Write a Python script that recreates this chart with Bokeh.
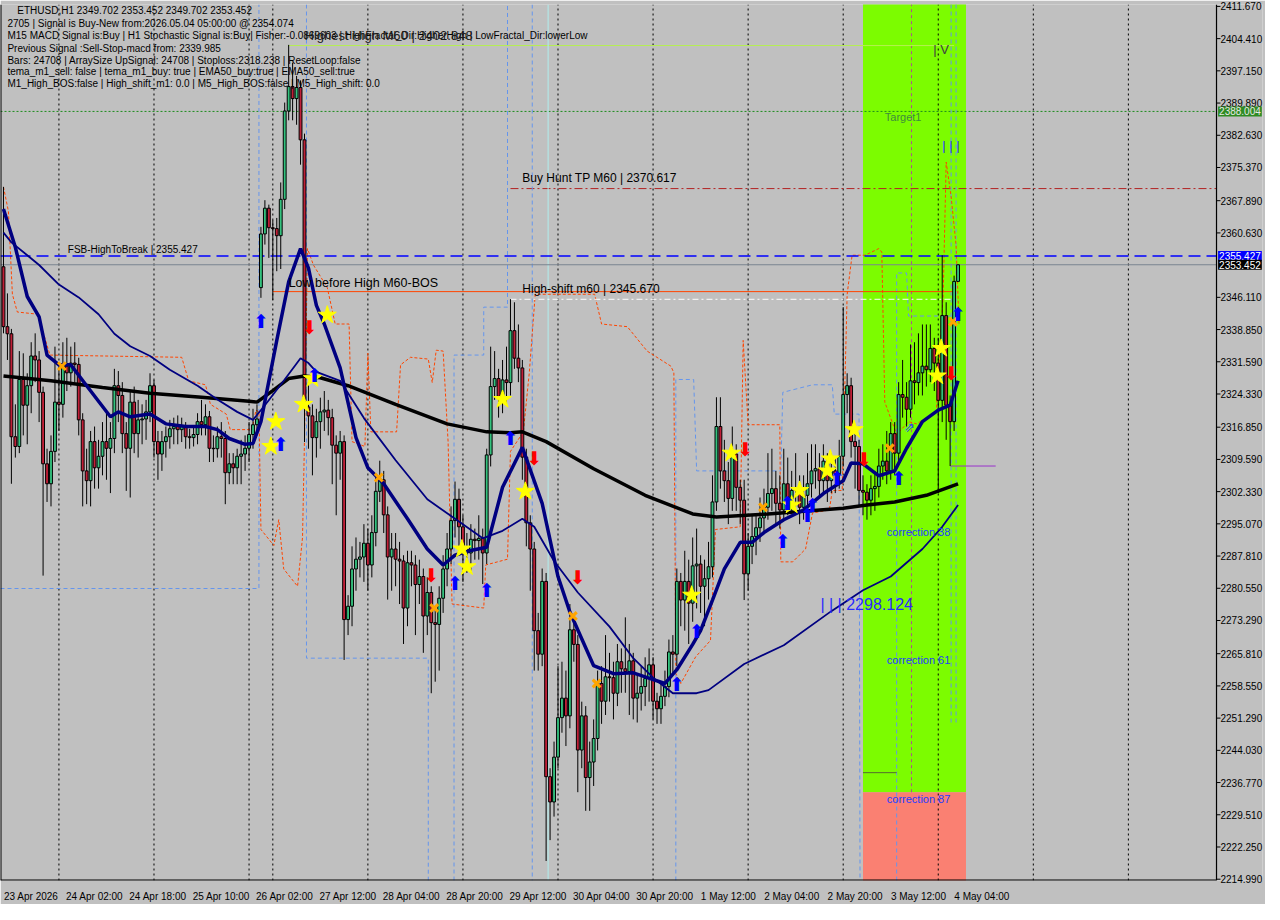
from bokeh.plotting import figure
from bokeh.models import ColumnDataSource, Label, FixedTicker, NumeralTickFormatter, Range1d
from bokeh.embed import file_html
from bokeh.resources import INLINE
from bokeh.core.properties import value

# ---------------- candle data (ETHUSD H1) ----------------
opens = [2353.0, 2339.5, 2337.9, 2314.7, 2312.5, 2327.6, 2321.8, 2326.2, 2332.9, 2332.0,
         2324.7, 2308.6, 2304.1, 2311.4, 2322.5, 2322.0, 2330.6, 2329.1, 2331.3, 2331.0,
         2318.5, 2307.0, 2304.8, 2313.6, 2307.7, 2310.3, 2313.6, 2312.1, 2314.3, 2326.2,
         2324.0, 2315.4, 2312.1, 2322.5, 2315.4, 2318.5, 2318.7, 2320.3, 2326.2, 2313.6,
         2310.8, 2313.6, 2314.7, 2316.5, 2317.0, 2316.3, 2317.0, 2314.7, 2314.5, 2315.2,
         2318.1, 2317.4, 2319.2, 2312.1, 2312.0, 2314.7, 2314.3, 2306.6, 2308.6, 2307.7,
         2310.3, 2310.8, 2312.1, 2315.2, 2317.4, 2348.3, 2360.4, 2366.2, 2361.8, 2361.6,
         2360.0, 2368.2, 2388.1, 2393.6, 2390.9, 2393.4, 2381.6, 2321.4, 2319.4, 2314.5,
         2318.1, 2320.3, 2320.7, 2319.0, 2312.8, 2311.0, 2313.6, 2273.5, 2276.5, 2284.9,
         2287.1, 2287.6, 2290.7, 2285.8, 2293.1, 2302.4, 2305.0, 2297.1, 2287.6, 2289.4,
         2287.1, 2286.7, 2276.1, 2286.3, 2285.8, 2281.4, 2283.2, 2274.3, 2279.6, 2272.8,
         2272.4, 2278.3, 2284.9, 2289.4, 2295.8, 2300.6, 2294.4, 2289.4, 2288.5, 2291.6,
         2291.3, 2291.8, 2288.5, 2310.6, 2326.0, 2327.8, 2323.8, 2327.5, 2326.9, 2338.6,
         2332.4, 2330.2, 2310.1, 2295.3, 2289.4, 2271.0, 2265.7, 2282.1, 2238.1, 2232.4,
         2242.5, 2251.4, 2255.8, 2251.8, 2271.2, 2267.9, 2244.1, 2251.8, 2237.9, 2241.4,
         2246.7, 2259.1, 2255.1, 2260.6, 2260.4, 2256.9, 2264.0, 2262.4, 2261.8, 2264.2,
         2255.8, 2256.9, 2258.4, 2260.2, 2263.3, 2255.1, 2253.4, 2256.2, 2258.4, 2266.2,
         2265.7, 2282.1, 2277.9, 2282.1, 2277.2, 2285.6, 2286.0, 2281.0, 2282.7, 2285.4,
         2300.0, 2317.0, 2307.0, 2304.8, 2300.8, 2310.8, 2303.3, 2300.4, 2283.8, 2290.0,
         2292.2, 2294.2, 2296.4, 2298.8, 2301.9, 2303.0, 2299.7, 2298.2, 2304.1, 2300.8,
         2302.6, 2303.0, 2298.8, 2301.5, 2304.1, 2307.0, 2307.5, 2304.8, 2309.2, 2304.8,
         2307.0, 2306.4, 2310.3, 2324.2, 2326.2, 2313.6, 2312.5, 2302.6, 2302.2, 2300.4,
         2303.0, 2303.5, 2308.1, 2309.2, 2307.0, 2315.4, 2311.0, 2324.2, 2323.6, 2320.9,
         2327.3, 2326.9, 2329.1, 2330.6, 2329.8, 2334.6, 2331.3, 2322.9, 2342.0, 2321.8,
         2318.1, 2349.702]
closes = [2339.5, 2337.9, 2314.7, 2312.5, 2327.6, 2321.8, 2326.2, 2332.9, 2332.0, 2324.7,
          2308.6, 2304.1, 2311.4, 2322.5, 2322.0, 2330.6, 2329.1, 2331.3, 2331.0, 2318.5,
          2307.0, 2304.8, 2313.6, 2307.7, 2310.3, 2313.6, 2312.1, 2314.3, 2326.2, 2324.0,
          2315.4, 2312.1, 2322.5, 2315.4, 2318.5, 2318.7, 2320.3, 2326.2, 2313.6, 2310.8,
          2313.6, 2314.7, 2316.5, 2317.0, 2316.3, 2317.0, 2314.7, 2314.5, 2315.2, 2318.1,
          2317.4, 2319.2, 2312.1, 2312.0, 2314.7, 2314.3, 2306.6, 2308.6, 2307.7, 2310.3,
          2310.8, 2312.1, 2315.2, 2317.4, 2318.7, 2360.4, 2366.2, 2361.8, 2361.6, 2360.0,
          2368.2, 2388.1, 2393.6, 2390.9, 2393.4, 2381.6, 2321.4, 2319.4, 2314.5, 2318.1,
          2320.3, 2320.7, 2319.0, 2312.8, 2311.0, 2313.6, 2273.5, 2276.5, 2284.9, 2287.1,
          2287.6, 2290.7, 2285.8, 2293.1, 2302.4, 2305.0, 2297.1, 2287.6, 2289.4, 2287.1,
          2286.7, 2276.1, 2286.3, 2285.8, 2281.4, 2283.2, 2274.3, 2279.6, 2272.8, 2272.4,
          2278.3, 2284.9, 2289.4, 2295.8, 2300.6, 2294.4, 2289.4, 2288.5, 2291.6, 2291.3,
          2291.8, 2288.5, 2310.6, 2326.0, 2327.8, 2323.8, 2327.5, 2326.9, 2338.6, 2332.4,
          2330.2, 2310.1, 2295.3, 2289.4, 2271.0, 2265.7, 2282.1, 2238.1, 2232.4, 2242.5,
          2251.4, 2255.8, 2251.8, 2271.2, 2267.9, 2244.1, 2251.8, 2237.9, 2241.4, 2246.7,
          2259.1, 2255.1, 2260.6, 2260.4, 2256.9, 2264.0, 2262.4, 2261.8, 2264.2, 2255.8,
          2256.9, 2258.4, 2260.2, 2263.3, 2255.1, 2253.4, 2256.2, 2258.4, 2266.2, 2265.7,
          2282.1, 2277.9, 2282.1, 2277.2, 2285.6, 2286.0, 2281.0, 2282.7, 2285.4, 2300.0,
          2317.0, 2307.0, 2304.8, 2300.8, 2310.8, 2303.3, 2300.4, 2283.8, 2290.0, 2292.2,
          2294.2, 2296.4, 2298.8, 2301.9, 2303.0, 2299.7, 2298.2, 2304.1, 2300.8, 2302.6,
          2303.0, 2298.8, 2301.5, 2304.1, 2307.0, 2307.5, 2304.8, 2309.2, 2304.8, 2307.0,
          2306.4, 2310.3, 2324.2, 2326.2, 2313.6, 2312.5, 2302.6, 2302.2, 2300.4, 2303.0,
          2303.5, 2308.1, 2309.2, 2307.0, 2315.4, 2311.0, 2324.2, 2323.6, 2320.9, 2327.3,
          2326.9, 2329.1, 2330.6, 2329.8, 2334.6, 2331.3, 2322.9, 2342.0, 2321.8, 2318.1,
          2349.702, 2353.452]
highs = [2371.0, 2347.0, 2339.0, 2322.0, 2334.0, 2333.5, 2329.0, 2336.0, 2338.0, 2334.0,
         2326.0, 2312.0, 2315.0, 2335.0, 2331.0, 2336.0, 2337.0, 2335.0, 2336.0, 2332.5,
         2320.0, 2312.0, 2316.0, 2317.0, 2314.0, 2318.0, 2320.0, 2318.0, 2330.0, 2329.5,
         2327.0, 2318.0, 2325.0, 2326.0, 2323.0, 2322.0, 2323.0, 2329.0, 2327.5, 2316.0,
         2316.0, 2317.0, 2318.5, 2319.0, 2319.5, 2319.0, 2318.0, 2316.5, 2317.0, 2320.0,
         2323.0, 2322.0, 2320.5, 2315.0, 2317.0, 2318.0, 2316.0, 2311.0, 2311.0, 2312.0,
         2314.0, 2315.0, 2318.0, 2321.0, 2322.0, 2362.0, 2368.0, 2367.0, 2363.5, 2364.0,
         2372.0, 2390.0, 2403.0, 2399.0, 2396.0, 2395.0, 2383.0, 2327.0, 2322.0, 2321.0,
         2323.5, 2325.0, 2323.0, 2321.0, 2315.0, 2316.0, 2315.0, 2279.0, 2290.0, 2292.0,
         2291.0, 2295.0, 2294.0, 2297.0, 2306.0, 2309.3, 2307.0, 2299.0, 2293.0, 2293.0,
         2291.0, 2288.0, 2289.0, 2289.0, 2288.0, 2287.0, 2285.0, 2283.0, 2281.0, 2276.0,
         2281.0, 2288.0, 2293.0, 2299.0, 2304.6, 2303.0, 2297.0, 2293.0, 2295.0, 2294.0,
         2297.0, 2294.0, 2312.0, 2335.0, 2334.0, 2330.0, 2332.0, 2335.0, 2345.7, 2345.0,
         2340.0, 2332.0, 2312.0, 2297.0, 2291.0, 2275.0, 2285.0, 2284.0, 2240.0, 2246.0,
         2263.0, 2264.0, 2262.0, 2277.0, 2274.0, 2270.0, 2255.0, 2254.0, 2246.0, 2251.0,
         2262.0, 2263.0, 2270.0, 2266.0, 2264.0, 2268.0, 2267.0, 2274.0, 2268.0, 2266.0,
         2261.0, 2263.0, 2265.0, 2267.0, 2265.0, 2257.0, 2259.0, 2262.0, 2269.0, 2270.0,
         2285.0, 2284.0, 2289.0, 2287.0, 2292.0, 2294.0, 2288.0, 2287.0, 2291.0, 2306.0,
         2323.6, 2323.6, 2314.0, 2309.0, 2317.0, 2313.0, 2305.0, 2305.0, 2293.0, 2297.0,
         2297.0, 2301.0, 2303.0, 2311.0, 2312.0, 2307.0, 2306.0, 2312.0, 2310.0, 2307.0,
         2311.0, 2306.0, 2306.0, 2311.0, 2313.0, 2313.0, 2311.0, 2313.0, 2311.0, 2311.0,
         2310.0, 2314.0, 2343.9, 2329.0, 2328.0, 2316.0, 2314.0, 2306.0, 2304.0, 2306.0,
         2307.0, 2312.0, 2313.0, 2316.0, 2318.0, 2318.0, 2327.0, 2332.0, 2327.0, 2335.5,
         2336.0, 2338.0, 2340.0, 2340.0, 2340.0, 2337.0, 2337.0, 2355.6, 2345.0, 2324.0,
         2351.0, 2353.452]
lows = [2338.0, 2332.0, 2304.1, 2310.0, 2311.0, 2315.0, 2313.0, 2320.0, 2327.0, 2318.0,
        2283.4, 2300.0, 2299.0, 2309.0, 2316.0, 2319.0, 2325.0, 2326.0, 2327.0, 2315.0,
        2299.0, 2299.5, 2299.0, 2303.0, 2303.0, 2306.0, 2305.0, 2302.0, 2311.0, 2318.0,
        2311.0, 2302.5, 2301.0, 2311.0, 2310.0, 2313.0, 2314.0, 2318.0, 2310.0, 2305.0,
        2307.0, 2310.0, 2312.0, 2313.0, 2313.0, 2313.5, 2312.0, 2312.0, 2312.5, 2313.0,
        2315.0, 2315.0, 2309.0, 2309.0, 2310.0, 2310.0, 2299.5, 2304.0, 2304.0, 2304.0,
        2304.0, 2307.0, 2309.0, 2312.0, 2315.0, 2346.0, 2358.0, 2355.0, 2345.5, 2352.0,
        2352.5, 2366.0, 2386.0, 2386.0, 2385.0, 2376.0, 2313.5, 2312.0, 2306.0, 2310.0,
        2312.0, 2316.0, 2315.0, 2304.0, 2297.0, 2305.0, 2264.4, 2270.0, 2272.0, 2280.0,
        2283.0, 2282.0, 2280.0, 2283.0, 2290.0, 2300.0, 2293.0, 2278.0, 2280.0, 2281.0,
        2277.0, 2268.0, 2272.0, 2281.0, 2270.0, 2277.0, 2266.0, 2270.0, 2256.9, 2259.5,
        2262.0, 2275.0, 2281.0, 2286.0, 2292.0, 2289.0, 2282.0, 2284.0, 2284.0, 2287.0,
        2287.0, 2281.5, 2286.0, 2308.0, 2323.0, 2319.0, 2320.0, 2322.0, 2324.0, 2330.0,
        2327.0, 2305.0, 2290.0, 2280.0, 2262.0, 2262.0, 2263.0, 2219.1, 2223.8, 2229.1,
        2240.0, 2248.0, 2245.0, 2249.0, 2264.0, 2234.6, 2240.0, 2230.4, 2230.4, 2236.0,
        2244.0, 2250.0, 2252.0, 2255.0, 2251.0, 2254.0, 2257.0, 2257.0, 2252.0, 2251.0,
        2250.3, 2253.0, 2254.0, 2255.0, 2251.0, 2250.0, 2250.0, 2254.0, 2256.0, 2261.0,
        2263.0, 2272.0, 2271.0, 2268.0, 2273.0, 2276.0, 2275.0, 2272.0, 2278.0, 2283.0,
        2298.0, 2303.0, 2300.0, 2295.0, 2298.0, 2298.0, 2295.0, 2277.9, 2280.0, 2286.0,
        2288.0, 2291.0, 2293.0, 2296.0, 2298.0, 2295.0, 2294.0, 2296.0, 2297.0, 2298.0,
        2299.0, 2295.0, 2296.0, 2299.0, 2301.0, 2303.0, 2301.0, 2302.0, 2300.0, 2302.0,
        2302.0, 2303.0, 2308.0, 2320.0, 2310.0, 2303.0, 2299.0, 2297.0, 2296.0, 2297.0,
        2298.0, 2301.0, 2305.0, 2304.0, 2305.0, 2306.0, 2309.0, 2319.0, 2317.0, 2319.0,
        2322.0, 2324.0, 2324.0, 2326.0, 2327.0, 2325.0, 2302.0, 2318.0, 2314.0, 2308.1,
        2316.0, 2349.702]
bar_index = list(range(len(closes)))

# ---------------- moving averages (read at anchor bars) ----------------
ema_fast_bars = [0, 3, 6, 9, 11, 14, 17, 21, 27, 29, 32, 37, 41, 46, 51, 54, 57, 61, 63, 65,
                 69, 72, 75, 77, 79, 81, 85, 89, 92, 96, 102, 107, 111, 114, 117, 122, 126, 131, 136, 140,
                 143, 149, 154, 159, 162, 167, 170, 174, 176, 179, 182, 186, 189, 192, 197, 202, 207, 212, 214, 217,
                 221, 225, 228, 232, 236, 239, 241]
ema_fast = [2366.0, 2357.4, 2346.3, 2341.7, 2333.1, 2330.9, 2330.9, 2326.2, 2319.2, 2320.3,
            2319.2, 2319.8, 2317.6, 2317.0, 2317.0, 2316.3, 2314.3, 2313.0, 2313.2, 2318.1,
            2336.4, 2349.6, 2357.1, 2352.7, 2344.3, 2340.1, 2330.2, 2314.5, 2307.7, 2304.1,
            2296.2, 2289.4, 2285.8, 2288.0, 2288.9, 2289.8, 2303.3, 2312.3, 2299.7, 2283.2,
            2275.2, 2263.1, 2261.3, 2261.5, 2260.6, 2259.1, 2262.2, 2267.9, 2271.0, 2277.9,
            2284.9, 2290.9, 2290.9, 2293.1, 2296.0, 2298.2, 2301.9, 2304.8, 2308.8, 2308.6,
            2305.9, 2307.0, 2312.1, 2318.1, 2320.7, 2321.8, 2327.3]
ema_slow_bars = [0, 2, 6, 9, 14, 19, 24, 28, 32, 37, 42, 49, 54, 59, 63, 66, 71, 75, 77, 79,
                 85, 91, 99, 107, 114, 121, 126, 131, 134, 139, 145, 153, 159, 164, 169, 175, 178, 187, 197, 209,
                 217, 224, 232, 237, 241]
ema_slow = [2360.7, 2358.5, 2355.6, 2353.4, 2349.0, 2346.1, 2342.3, 2337.9, 2335.1, 2332.9,
            2329.8, 2326.2, 2323.1, 2320.3, 2318.5, 2321.8, 2327.6, 2332.4, 2331.3, 2329.3,
            2327.3, 2318.9, 2309.4, 2300.6, 2296.2, 2291.8, 2293.5, 2296.2, 2294.4, 2286.7,
            2279.6, 2271.9, 2264.8, 2260.4, 2256.9, 2256.9, 2257.6, 2263.5, 2267.7, 2275.4,
            2280.1, 2283.2, 2289.4, 2294.4, 2299.3]
ema200_bars = [0, 12, 25, 37, 50, 62, 64, 68, 72, 76, 80, 87, 99, 112, 122, 128, 131, 137, 149, 162,
               174, 180, 193, 212, 218, 225, 233, 241]
ema200 = [2328.4, 2327.3, 2325.8, 2324.5, 2323.6, 2322.7, 2322.5, 2325.1, 2327.8, 2328.4,
          2328.0, 2326.2, 2322.0, 2317.6, 2315.8, 2315.6, 2315.8, 2313.6, 2307.5, 2301.5,
          2297.3, 2296.6, 2297.3, 2298.6, 2299.3, 2300.0, 2301.5, 2304.1]

# ---------------- stepped indicator lines ----------------
orange_bars = [0, 1.25, 2.25, 3.5, 8.75, 10.5, 11.75, 45, 46.75, 51, 52.25, 56.25, 57.25, 62.75, 63.75,
               64.5, 65, 68.25, 69.5, 70.75, 74.25, 75.5, 76, 76.75, 78.25, 81.75, 83.75, 87.25, 88,
               91.25, 92, 92.75, 99.25, 100.25, 102.75, 107.25, 108.25, 109.25, 111, 112.25, 113.25,
               121.25, 121.75, 127.25, 128, 131.25, 132.75, 134.25, 139.25, 149.25, 151, 157.5, 162.5,
               168.5, 169.25, 169.75, 171, 174.75, 178.5, 179.75, 186, 186.75, 188, 196, 196.25, 199.25,
               202.5, 204.25, 208.5, 209.25, 211.75, 213, 214.25, 217.5, 221, 221.75, 222.5, 225.5,
               228.5, 230.5, 235.5, 237.25, 238, 239.25, 240.5, 241.25]
orange_vals = [2371.0, 2365.5, 2346.8, 2342.8, 2342.3, 2336.8, 2333.1, 2332.6, 2327.3, 2326.4,
               2322.0, 2319.8, 2316.3, 2316.3, 2320.7, 2320.3, 2293.8, 2290.2, 2296.0, 2284.9,
               2281.0, 2292.0, 2314.3, 2357.1, 2353.4, 2348.3, 2340.1, 2340.1, 2313.6, 2312.5,
               2333.5, 2315.8, 2315.8, 2330.9, 2332.6, 2332.2, 2326.9, 2334.2, 2334.0, 2313.6,
               2277.0, 2276.1, 2285.8, 2287.1, 2311.4, 2315.8, 2329.1, 2346.8, 2346.8, 2346.8,
               2340.1, 2339.5, 2334.0, 2330.6, 2329.1, 2261.3, 2259.1, 2265.1, 2268.8, 2293.8,
               2294.4, 2336.4, 2317.4, 2317.4, 2286.5, 2286.5, 2289.4, 2297.5, 2298.2, 2302.6,
               2302.6, 2346.8, 2355.6, 2355.6, 2357.1, 2356.3, 2322.5, 2315.2, 2318.1, 2317.6,
               2320.3, 2346.8, 2376.6, 2368.8, 2357.8, 2340.1]
blue_path_bars = [[-0.75, 64.5, 64.5],
                  [76.5, 76.5, 107.25, 107.25],
                  [113.75, 113.75, 121.25, 121.25, 127.25, 127.25],
                  [133.5, 133.5],
                  [169.75, 169.75, 174.25, 175, 196.25, 196.75, 204.25, 209.25, 209.75, 216, 216.25],
                  [225.5, 225.5, 228, 228.5, 241],
                  [239.25, 239.25],
                  [240.5, 240.5]]
blue_path_vals = [[2280.5, 2280.5, 2412.1],
                  [2412.1, 2264.8, 2264.8, 2214.7],
                  [2214.7, 2333.1, 2333.1, 2343.9, 2343.9, 2412.1],
                  [2412.1, 2214.7],
                  [2214.7, 2327.6, 2327.6, 2307.0, 2307.0, 2324.7, 2326.4, 2326.4, 2319.8, 2319.8, 2214.7],
                  [2214.7, 2351.6, 2351.6, 2341.9, 2341.9],
                  [2412.1, 2249.6],
                  [2412.1, 2249.6]]
day_separators = [14, 38, 62, 68, 92, 116, 140, 164, 188, 212, 236, 260, 284]

# ---------------- signals ----------------
star_bars = [68.75, 67.5, 75.75, 78, 81.75, 115.75, 117, 126, 131.75, 173.75, 183.75, 199, 201, 208, 208.75, 214.75, 235.75, 236.75]
star_vals = [2318.1, 2312.5, 2322.0, 2327.8, 2342.1, 2289.4, 2285.4, 2323.1, 2302.4, 2279.0, 2311.0, 2299.3, 2302.6, 2307.0, 2309.7, 2316.3, 2328.4, 2334.6]
cross_bars = [14.75, 94.75, 108.75, 143.75, 149.75, 191.75, 223.75, 239.75]
cross_vals = [2330.6, 2305.5, 2276.1, 2274.3, 2259.1, 2298.8, 2312.1, 2340.6]
up_bars = [65, 70, 78.5, 114, 122, 128, 170, 175, 196.75, 198, 203, 204.25, 210.5, 226, 241]
up_vals = [2340.8, 2313.0, 2328.7, 2281.8, 2280.1, 2314.5, 2258.9, 2271.0, 2291.1, 2299.7, 2297.1, 2299.3, 2305.3, 2305.5, 2342.3]
down_bars = [77.25, 108, 134, 145, 187.25, 217.25, 239.25]
down_vals = [2339.5, 2283.6, 2309.9, 2283.2, 2311.9, 2309.7, 2329.1]

# ---------------- levels ----------------
target1 = 2388.004
fsb_high = 2355.427
bid = 2353.452
buy_hunt_tp = 2370.617
high_shift = 2345.670
low_before_high = 2347.4
highest_high = 2402.848
purple_level = 2308.1
zone_left, zone_right, zone_split = 217, 243, 2234.6

y_ticks = [2411.67, 2404.41, 2397.15, 2389.89, 2382.63, 2375.37, 2367.89, 2360.63, 2346.11, 2338.85,
           2331.59, 2324.33, 2316.85, 2309.59, 2302.33, 2295.07, 2287.81, 2280.55, 2273.29, 2265.81,
           2258.55, 2251.29, 2244.03, 2236.77, 2229.51, 2222.25, 2214.99]
x_tick_bars = [0, 16, 32, 48, 64, 80, 96, 112, 128, 144, 160, 176, 192, 208, 224, 240]
x_tick_labels = ["23 Apr 2026", "24 Apr 02:00", "24 Apr 18:00", "25 Apr 10:00", "26 Apr 02:00",
                 "27 Apr 12:00", "28 Apr 04:00", "28 Apr 20:00", "29 Apr 12:00", "30 Apr 04:00",
                 "30 Apr 20:00", "1 May 12:00", "2 May 04:00", "2 May 20:00", "3 May 12:00", "4 May 04:00"]

info_lines = ["2705 | Signal is Buy-New from:2026.05.04 05:00:00 @ 2354.074",
              "M15 MACD Signal is:Buy | H1 Stochastic Signal is:Buy| Fisher:-0.0869603 | HighFractal_Dir:HigherHigh | LowFractal_Dir:lowerLow",
              "Previous Signal :Sell-Stop-macd from: 2339.985",
              "Bars: 24708 | ArraySize UpSignal: 24708 | Stoploss:2318.238 | ResetLoop:false",
              "tema_m1_sell: false | tema_m1_buy: true | EMA50_buy:true | EMA50_sell:true",
              "M1_High_BOS:false | High_shift_m1: 0.0 | M5_High_BOS:false | M5_High_shift: 0.0"]

# ---------------- figure ----------------
# the frame also covers the price-scale strip (X1..XE) so the price boxes can sit over the scale
X0, X1, XE = -0.75, 306.25, 317.86
Y0, Y1 = 2214.7, 2412.1
FONT = "Liberation Sans"

p = figure(frame_width=1262, frame_height=876, x_range=Range1d(X0, XE), y_range=Range1d(Y0, Y1),
           output_backend="svg", toolbar_location=None, y_axis_location="right",
           min_border_left=0, min_border_top=4, min_border_right=1, min_border_bottom=22)
p.background_fill_color = "#C0C0C0"
p.border_fill_color = "#C0C0C0"
p.outline_line_color = None
p.grid.visible = False

yax = p.yaxis[0]
yax.ticker = FixedTicker(ticks=y_ticks)
yax.formatter = NumeralTickFormatter(format="0.000")
yax.major_label_text_font = FONT
yax.major_label_text_font_size = "10px"
yax.major_label_text_color = "black"
yax.axis_line_color = None
yax.major_tick_line_color = None
yax.major_tick_out = 0
yax.major_tick_in = 0
yax.minor_tick_line_color = None
yax.major_label_standoff = -42

xax = p.xaxis[0]
label_pos = [b + 7 for b in x_tick_bars]
xax.ticker = FixedTicker(ticks=label_pos)
xax.major_label_overrides = {pos: lab for pos, lab in zip(label_pos, x_tick_labels)}
xax.major_label_text_font = FONT
xax.major_label_text_font_size = "10px"
xax.major_label_text_color = "black"
xax.axis_line_color = None
xax.major_tick_line_color = None
xax.minor_tick_line_color = None
xax.major_label_standoff = 4

# zone rectangles
p.quad(left=[zone_left], right=[zone_right], bottom=[zone_split], top=[Y1 + 5], fill_color="#7CFC00", line_color=None)
p.quad(left=[zone_left], right=[zone_right], bottom=[Y0 - 5], top=[zone_split], fill_color="#FA8072", line_color=None)

# day separators
p.segment(x0=day_separators, y0=[Y0] * len(day_separators), x1=day_separators, y1=[Y1] * len(day_separators),
          line_color="black", line_dash="2 3", line_width=1)
p.segment(x0=[229.25], y0=[zone_split], x1=[229.25], y1=[Y1], line_color="#B0508C", line_dash="3 3")

# horizontal levels
p.segment(x0=[X0], y0=[target1], x1=[X1], y1=[target1], line_color="#1E8C1E", line_dash="2 2", line_width=1)
p.segment(x0=[72], y0=[highest_high], x1=[240], y1=[highest_high], line_color="#B5F050", line_width=1)
p.segment(x0=[128], y0=[buy_hunt_tp], x1=[X1], y1=[buy_hunt_tp], line_color="#B22222", line_dash="8 3 2 3", line_width=1)

# indicator lines
p.multi_line(xs=blue_path_bars, ys=blue_path_vals, line_color="#6495ED", line_dash="4 3", line_width=1)
p.segment(x0=[137.5], y0=[Y0], x1=[137.5], y1=[Y1], line_color="#AFEEEE", line_width=1)
p.line(orange_bars, orange_vals, line_color="#FF4500", line_dash="3 2", line_width=1)

p.segment(x0=[X0], y0=[fsb_high], x1=[X1], y1=[fsb_high], line_color="#0000FF", line_dash="12 6", line_width=1.5)
p.segment(x0=[X0], y0=[bid], x1=[X1], y1=[bid], line_color="#7A8590", line_width=1)
p.segment(x0=[68], y0=[low_before_high], x1=[240.5], y1=[low_before_high], line_color="#FF4500", line_width=1)
p.segment(x0=[128], y0=[high_shift], x1=[240.5], y1=[high_shift], line_color="white", line_dash="6 3 2 3", line_width=1)
p.segment(x0=[239], y0=[purple_level], x1=[250.5], y1=[purple_level], line_color="#9932CC", line_width=1)
p.segment(x0=[217], y0=[2239.0], x1=[225.5], y1=[2239.0], line_color="#556B2F", line_width=1)

# candles
bodies_top = [max(o, c) for o, c in zip(opens, closes)]
bodies_bot = [min(o, c) for o, c in zip(opens, closes)]
colors = ["#34C27E" if c >= o else "#C02038" for o, c in zip(opens, closes)]
src = ColumnDataSource(dict(x=bar_index, high=highs, low=lows, top=bodies_top, bottom=bodies_bot, color=colors))
p.segment(x0="x", y0="low", x1="x", y1="high", line_color="black", line_width=1, source=src)
p.vbar(x="x", width=0.72, top="top", bottom="bottom", fill_color="color", line_color="black", line_width=1, source=src)

# moving averages
p.line(ema200_bars, ema200, line_color="black", line_width=3.5)
p.line(ema_slow_bars, ema_slow, line_color="#000080", line_width=1.8)
p.line(ema_fast_bars, ema_fast, line_color="#000080", line_width=3.5)

# signals
p.scatter(star_bars, star_vals, marker="star", size=19, fill_color="#FFFF00", line_color="#FFFF00")
p.scatter(cross_bars, cross_vals, marker="x", size=11, line_color="#FFA500", line_width=3)
p.text(up_bars, up_vals, text=["⬆"] * len(up_bars), text_color="#0000FF", text_font=value("DejaVu Sans"),
       text_font_size="19px", text_align="center", text_baseline="middle")
p.text(down_bars, down_vals, text=["⬇"] * len(down_bars), text_color="#FF0000", text_font=value("DejaVu Sans"),
       text_font_size="19px", text_align="center", text_baseline="middle")
p.text([228.75], [2316.7], text=["⇗"], text_color="#2040FF", text_font=value("DejaVu Sans"),
       text_font_size="13px", text_align="center", text_baseline="middle")

# chart borders and price-scale tick marks
p.segment(x0=[X1], y0=[Y0], x1=[X1], y1=[Y1], line_color="black", line_width=1.2)
p.segment(x0=[X0], y0=[Y0], x1=[X1], y1=[Y0], line_color="black", line_width=2)
p.segment(x0=[X0], y0=[Y0], x1=[X0], y1=[Y1], line_color="black", line_width=2)
p.segment(x0=[X1] * len(y_ticks), y0=y_ticks, x1=[X1 + 1.0] * len(y_ticks), y1=y_ticks, line_color="black", line_width=1)

# texts on chart
def add_label(x, y, text, size="10px", color="black", font=FONT, align="left"):
    p.add_layout(Label(x=x, y=y, text=text, text_font=font, text_font_size=size, text_color=color,
                       text_baseline="middle", text_align=align))

add_label(3.5, 2410.8, "ETHUSD,H1  2349.702 2353.452 2349.702 2353.452")
info_y = [2407.9, 2405.1, 2402.2, 2399.5, 2396.9, 2394.2]
for yy, line in zip(info_y, info_lines):
    add_label(1.0, yy, line)
add_label(76, 2405.1, "Highest High    M60 | 2402.848", size="13px", color="#1A1A1A")
add_label(16.25, 2356.9, "FSB-HighToBreak | 2355.427", size="10px")
add_label(72, 2349.4, "Low before High    M60-BOS", size="12.5px")
add_label(131, 2373.0, "Buy Hunt TP M60 | 2370.617", size="12px")
add_label(131, 2348.1, "High-shift m60 | 2345.670", size="12px")
add_label(222.5, 2386.7, "Target1", size="11px", color="#3C8C3C")
add_label(223, 2293.3, "correction 38", size="11px", color="#1E3CFF")
add_label(223, 2264.4, "correction 61", size="11px", color="#1E3CFF")
add_label(223, 2233.0, "correction 87", size="11px", color="#1E3CFF")
add_label(206.25, 2276.8, "| | | 2298.124", size="16px", color="#2A2AFF")
add_label(234.75, 2402.0, "| V", size="13px", color="#404040")
add_label(237, 2380.3, "| | |", size="13px", color="#2A2AFF")

# price boxes on the price scale
for val, bg, fg in [(target1, "#2E8B22", "#E8E8E8"), (fsb_high, "#0000FF", "white"), (bid, "black", "white")]:
    p.add_layout(Label(x=X1 + 0.4, y=val, text=f"{val:.3f}", text_font=FONT, text_font_size="10px",
                       text_color=fg, background_fill_color=bg, text_baseline="middle", padding=1))

open("out.html", "w").write(file_html(p, INLINE))
